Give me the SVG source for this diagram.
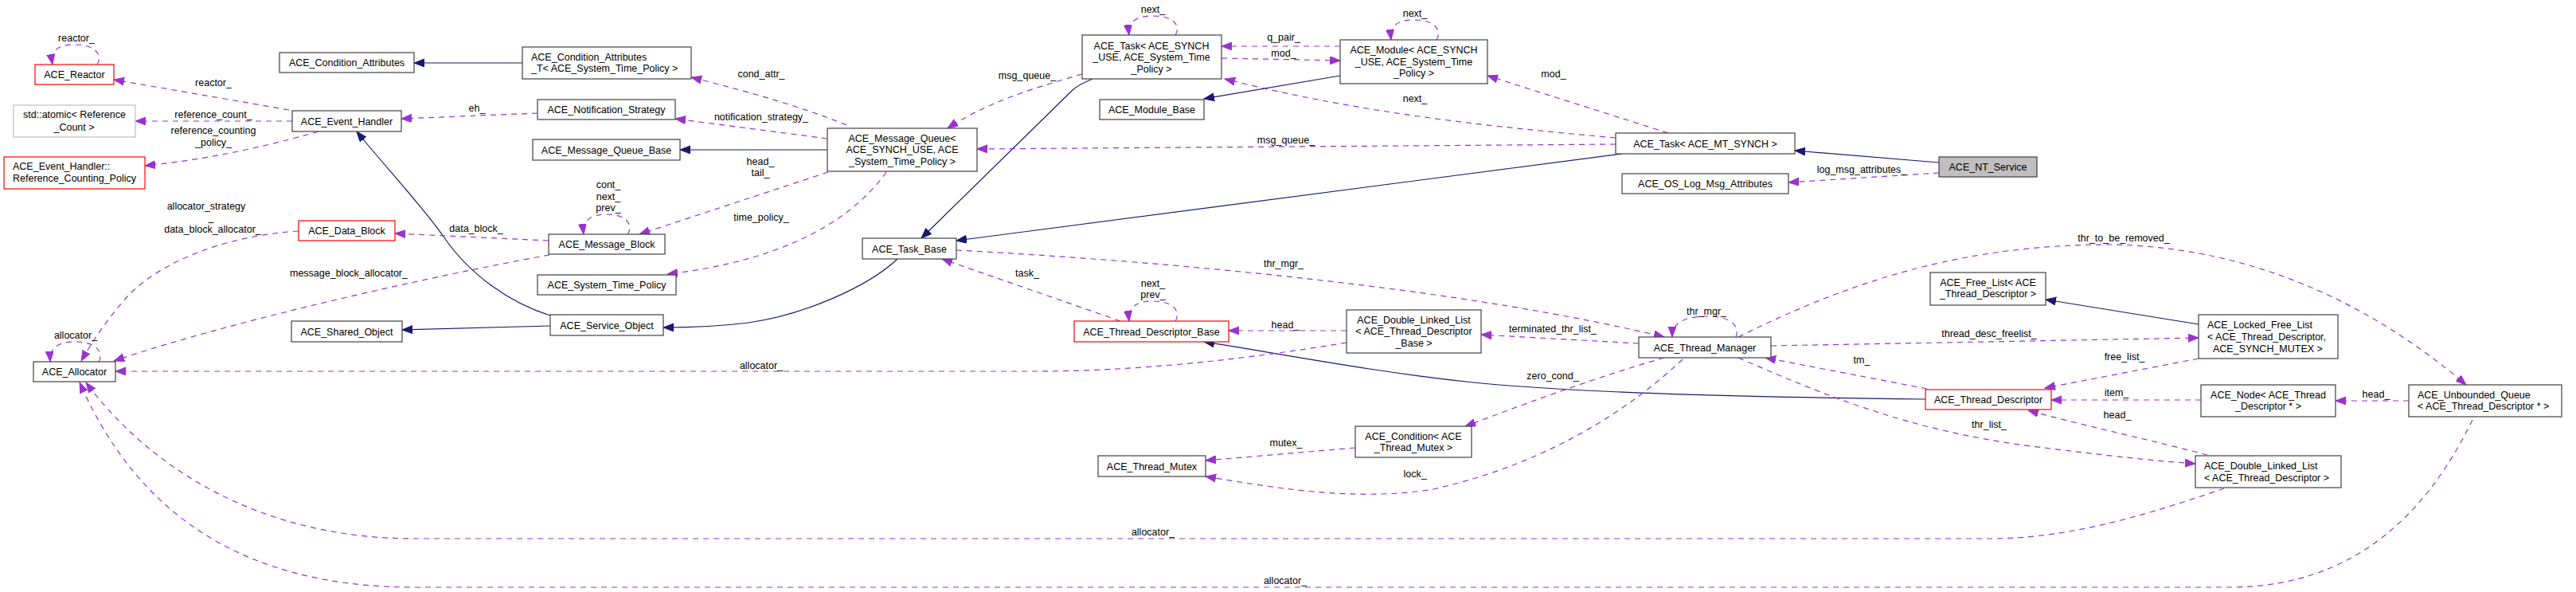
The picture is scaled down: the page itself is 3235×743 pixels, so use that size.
<svg xmlns="http://www.w3.org/2000/svg" width="3235" height="743" viewBox="0 0 3235 743">
<style>
text{font-family:"Liberation Sans",Arial,Helvetica,sans-serif;font-size:12.5px;fill:#000}
.c{text-anchor:middle}
.n rect{fill:#fff;stroke:#404040;stroke-width:1.2}
.r rect{stroke:#ff0000}
.g rect{stroke:#bfbfbf}
.s rect{fill:#bfbfbf}
.inh{fill:none;stroke:#191970;stroke-width:1.2;marker-end:url(#ai)}
.use{fill:none;stroke:#9a32cd;stroke-width:1.2;stroke-dasharray:7,6;marker-end:url(#au)}
</style>
<defs>
<marker id="ai" markerUnits="userSpaceOnUse" markerWidth="14" markerHeight="12" refX="13" refY="5" orient="auto"><path d="M0,0 L13,5 L0,10 z" fill="#191970" stroke="#191970"/></marker>
<marker id="au" markerUnits="userSpaceOnUse" markerWidth="14" markerHeight="12" refX="13" refY="5" orient="auto"><path d="M0,0 L13,5 L0,10 z" fill="#9a32cd" stroke="#9a32cd"/></marker>
</defs>
<rect width="3235" height="743" fill="#fff"/>
<g id="edges">
<path class="inh" d="M656,79 L520,79"/>
<path class="inh" d="M1039,188 L854,188"/>
<path class="inh" d="M691,396 C640,380 590,345 557,297 C530,258 480,205 448,165"/>
<path class="inh" d="M1127,325 C1090,360 1010,395 940,405 C900,410 870,411 833,411"/>
<path class="inh" d="M691,409 L505,414"/>
<path class="inh" d="M1372,99 C1360,104 1352,108 1347,113 L1157,299"/>
<path class="inh" d="M2037,193 L1201,302"/>
<path class="inh" d="M1683,95 L1512,124"/>
<path class="inh" d="M2435,204 L2254,189"/>
<path class="inh" d="M2418,501 C2250,499 2000,495 1850,480 C1720,466 1620,446 1512,429"/>
<path class="inh" d="M2761,407 L2569,376"/>

<path class="use" d="M122,81 C128,72 124,56 94,56 C72,56 63,64 66,81"/>
<path class="use" d="M363,138 L143,100"/>
<path class="use" d="M367,152 L170,152"/>
<path class="use" d="M400,165 C330,185 260,200 182,208"/>
<path class="use" d="M675,142 L504,149"/>
<path class="use" d="M1063,157 C1010,135 940,115 868,97"/>
<path class="use" d="M1039,174 L848,149"/>
<path class="use" d="M1040,216 L803,294"/>
<path class="use" d="M1113,216 C1060,290 960,330 838,344"/>
<path class="use" d="M788,294 C795,285 790,269 762,269 C740,269 731,278 733,294"/>
<path class="use" d="M689,302 L496,293"/>
<path class="use" d="M690,320 C550,345 300,400 143,453"/>
<path class="use" d="M375,290 C280,296 200,330 160,372 C135,400 115,430 102,453"/>
<path class="use" d="M124,454 C130,445 124,429 95,429 C72,429 62,437 63,454"/>
<path class="use" d="M1691,430 C1600,445 1450,466 1300,466 L145,466"/>
<path class="use" d="M2793,613 C2700,645 2600,676 2500,676 L520,676 C330,676 190,590 108,480"/>
<path class="use" d="M3105,527 C3050,640 2960,737 2800,737 L520,737 C300,737 170,640 100,480"/>
<path class="use" d="M1359,93 C1300,110 1240,128 1190,161"/>
<path class="use" d="M2029,181 L1227,187"/>
<path class="use" d="M2029,173 C1850,157 1700,140 1538,99"/>
<path class="use" d="M2095,167 L1868,95"/>
<path class="use" d="M1476,44 C1482,35 1478,20 1448,20 C1426,20 1416,28 1418,44"/>
<path class="use" d="M1804,50 C1810,41 1806,25 1776,25 C1754,25 1745,33 1747,50"/>
<path class="use" d="M1683,58 L1534,58"/>
<path class="use" d="M1534,73 L1683,76"/>
<path class="use" d="M2435,217 L2246,229"/>
<path class="use" d="M1407,403 L1183,325"/>
<path class="use" d="M1476,403 C1482,394 1478,378 1448,378 C1426,378 1416,386 1418,403"/>
<path class="use" d="M1691,415 L1543,415"/>
<path class="use" d="M2058,431 L1860,420"/>
<path class="use" d="M1201,314 C1500,330 1850,365 2090,423"/>
<path class="use" d="M2180,423 C2185,410 2175,397 2145,397 C2115,397 2100,405 2100,423"/>
<path class="use" d="M2183,423 C2330,350 2470,307 2650,307 C2850,310 3000,400 3097,483"/>
<path class="use" d="M2090,449 C2000,475 1920,505 1840,535"/>
<path class="use" d="M2113,451 C2050,510 1950,580 1800,614 C1700,630 1600,612 1514,598"/>
<path class="use" d="M1702,562 L1514,578"/>
<path class="use" d="M2224,434 L2761,424"/>
<path class="use" d="M2420,488 L2217,449"/>
<path class="use" d="M2183,449 C2300,500 2400,540 2550,560 C2650,572 2700,578 2757,582"/>
<path class="use" d="M2761,450 L2568,487"/>
<path class="use" d="M2764,502 L2576,502"/>
<path class="use" d="M2772,571 C2700,552 2620,535 2547,515"/>
<path class="use" d="M3025,503 L2933,503"/>
</g>
<g id="edge-labels" class="c">
<text x="96" y="52">reactor_</text>
<text x="268" y="108">reactor_</text>
<text x="268" y="148">reference_count_</text>
<text x="268" y="168">reference_counting</text>
<text x="268" y="183">_policy_</text>
<text x="259" y="263">allocator_strategy</text>
<text x="265" y="277">_</text>
<text x="267" y="292">data_block_allocator_</text>
<text x="438" y="347">message_block_allocator_</text>
<text x="95" y="425">allocator_</text>
<text x="599" y="140">eh_</text>
<text x="956" y="97">cond_attr_</text>
<text x="956" y="151">notification_strategy_</text>
<text x="955" y="207">head_</text>
<text x="955" y="221">tail_</text>
<text x="764" y="236">cont_</text>
<text x="764" y="251">next_</text>
<text x="764" y="265">prev_</text>
<text x="598" y="291">data_block_</text>
<text x="956" y="277">time_policy_</text>
<text x="1290" y="99">msg_queue_</text>
<text x="1615" y="180">msg_queue_</text>
<text x="1448" y="16">next_</text>
<text x="1612" y="51">q_pair_</text>
<text x="1612" y="71">mod_</text>
<text x="1777" y="21">next_</text>
<text x="1951" y="97">mod_</text>
<text x="1777" y="128">next_</text>
<text x="2338" y="217">log_msg_attributes_</text>
<text x="1290" y="347">task_</text>
<text x="1448" y="360">next_</text>
<text x="1448" y="374">prev_</text>
<text x="1612" y="335">thr_mgr_</text>
<text x="1614" y="412">head_</text>
<text x="1950" y="417">terminated_thr_list_</text>
<text x="2143" y="395">thr_mgr_</text>
<text x="2667" y="303">thr_to_be_removed_</text>
<text x="2498" y="423">thread_desc_freelist_</text>
<text x="2668" y="452">free_list_</text>
<text x="2338" y="456">tm_</text>
<text x="1950" y="476">zero_cond_</text>
<text x="2658" y="497">item_</text>
<text x="2659" y="525">head_</text>
<text x="2984" y="499">head_</text>
<text x="2498" y="537">thr_list_</text>
<text x="1615" y="560">mutex_</text>
<text x="1777" y="599">lock_</text>
<text x="956" y="463">allocator_</text>
<text x="1448" y="672">allocator_</text>
<text x="1614" y="733">allocator_</text>
</g>
<g id="ACE_Reactor" class="n r"><rect x="44" y="81" width="99" height="25"/><text class="c" x="93.5" y="98">ACE_Reactor</text></g>
<g id="std_atomic" class="n g"><rect x="17" y="132" width="153" height="40"/><text class="c" x="93.5" y="147.5">std::atomic&lt; Reference</text><text class="c" x="93" y="163.5">_Count &gt;</text></g>
<g id="Reference_Counting_Policy" class="n r"><rect x="5" y="197" width="177" height="40"/><text x="16" y="212.5">ACE_Event_Handler::</text><text x="16" y="227.5">Reference_Counting_Policy</text></g>
<g id="ACE_Condition_Attributes" class="n"><rect x="351" y="66" width="169" height="25"/><text class="c" x="435.5" y="83">ACE_Condition_Attributes</text></g>
<g id="ACE_Event_Handler" class="n"><rect x="367" y="139" width="137" height="26"/><text class="c" x="435.5" y="156.5">ACE_Event_Handler</text></g>
<g id="ACE_Data_Block" class="n r"><rect x="375" y="277" width="121" height="25"/><text class="c" x="435.5" y="294">ACE_Data_Block</text></g>
<g id="ACE_Allocator" class="n"><rect x="42" y="454" width="103" height="25"/><text class="c" x="93.5" y="471">ACE_Allocator</text></g>
<g id="ACE_Shared_Object" class="n"><rect x="366" y="403" width="139" height="26"/><text class="c" x="435.5" y="420.5">ACE_Shared_Object</text></g>
<g id="ACE_Condition_Attributes_T" class="n"><rect x="656" y="59" width="212" height="40"/><text x="667" y="75.5">ACE_Condition_Attributes</text><text x="667" y="89.5">_T&lt; ACE_System_Time_Policy &gt;</text></g>
<g id="ACE_Notification_Strategy" class="n"><rect x="675" y="125" width="173" height="25"/><text class="c" x="761.5" y="142">ACE_Notification_Strategy</text></g>
<g id="ACE_Message_Queue_Base" class="n"><rect x="669" y="175" width="185" height="26"/><text class="c" x="761.5" y="192.5">ACE_Message_Queue_Base</text></g>
<g id="ACE_Message_Block" class="n"><rect x="689" y="294" width="146" height="25"/><text class="c" x="762" y="311">ACE_Message_Block</text></g>
<g id="ACE_System_Time_Policy" class="n"><rect x="675" y="345" width="174" height="25"/><text class="c" x="762" y="362">ACE_System_Time_Policy</text></g>
<g id="ACE_Service_Object" class="n"><rect x="691" y="395" width="142" height="26"/><text class="c" x="762" y="412.5">ACE_Service_Object</text></g>
<g id="ACE_Message_Queue" class="n"><rect x="1039" y="161" width="188" height="54"/><text class="c" x="1133" y="177.5">ACE_Message_Queue&lt;</text><text class="c" x="1133" y="191.5">ACE_SYNCH_USE, ACE</text><text class="c" x="1133" y="206.5">_System_Time_Policy &gt;</text></g>
<g id="ACE_Task_SYNCH_USE" class="n"><rect x="1359" y="44" width="175" height="55"/><text class="c" x="1446" y="61.5">ACE_Task&lt; ACE_SYNCH</text><text class="c" x="1446" y="75.5">_USE, ACE_System_Time</text><text class="c" x="1446" y="90.5">_Policy &gt;</text></g>
<g id="ACE_Module_Base" class="n"><rect x="1381" y="125" width="131" height="25"/><text class="c" x="1446.5" y="142">ACE_Module_Base</text></g>
<g id="ACE_Task_Base" class="n"><rect x="1083" y="299" width="118" height="26"/><text class="c" x="1142" y="316.5">ACE_Task_Base</text></g>
<g id="ACE_Thread_Descriptor_Base" class="n r"><rect x="1349" y="403" width="194" height="26"/><text class="c" x="1446" y="420.5">ACE_Thread_Descriptor_Base</text></g>
<g id="ACE_Thread_Mutex" class="n"><rect x="1379" y="572" width="135" height="26"/><text class="c" x="1446.5" y="589.5">ACE_Thread_Mutex</text></g>
<g id="ACE_Module" class="n"><rect x="1683" y="50" width="185" height="55"/><text class="c" x="1775.5" y="66.5">ACE_Module&lt; ACE_SYNCH</text><text class="c" x="1775.5" y="81.5">_USE, ACE_System_Time</text><text class="c" x="1775.5" y="95.5">_Policy &gt;</text></g>
<g id="ACE_Double_Linked_List_TDB" class="n"><rect x="1691" y="389" width="169" height="54"/><text class="c" x="1775.5" y="405.5">ACE_Double_Linked_List</text><text class="c" x="1775.5" y="419.5">&lt; ACE_Thread_Descriptor</text><text class="c" x="1775.5" y="434.5">_Base &gt;</text></g>
<g id="ACE_Condition" class="n"><rect x="1702" y="535" width="146" height="39"/><text class="c" x="1775" y="551.5">ACE_Condition&lt; ACE</text><text class="c" x="1775" y="565.5">_Thread_Mutex &gt;</text></g>
<g id="ACE_Task_MT_SYNCH" class="n"><rect x="2029" y="167" width="225" height="26"/><text class="c" x="2141.5" y="184.5">ACE_Task&lt; ACE_MT_SYNCH &gt;</text></g>
<g id="ACE_OS_Log_Msg_Attributes" class="n"><rect x="2037" y="218" width="209" height="25"/><text class="c" x="2141.5" y="235">ACE_OS_Log_Msg_Attributes</text></g>
<g id="ACE_Thread_Manager" class="n"><rect x="2058" y="423" width="166" height="26"/><text class="c" x="2141" y="440.5">ACE_Thread_Manager</text></g>
<g id="ACE_NT_Service" class="n s"><rect x="2435" y="197" width="123" height="25"/><text class="c" x="2496.5" y="214">ACE_NT_Service</text></g>
<g id="ACE_Free_List" class="n"><rect x="2424" y="342" width="145" height="41"/><text class="c" x="2496.5" y="358.5">ACE_Free_List&lt; ACE</text><text class="c" x="2496.5" y="373">_Thread_Descriptor &gt;</text></g>
<g id="ACE_Thread_Descriptor" class="n r"><rect x="2418" y="489" width="158" height="25"/><text class="c" x="2497" y="506">ACE_Thread_Descriptor</text></g>
<g id="ACE_Locked_Free_List" class="n"><rect x="2761" y="395" width="175" height="55"/><text x="2772" y="411.5">ACE_Locked_Free_List</text><text x="2772" y="426.5">&lt; ACE_Thread_Descriptor,</text><text x="2779" y="441.5">ACE_SYNCH_MUTEX &gt;</text></g>
<g id="ACE_Node" class="n"><rect x="2764" y="483" width="169" height="40"/><text class="c" x="2848.5" y="499.5">ACE_Node&lt; ACE_Thread</text><text class="c" x="2848.5" y="513.5">_Descriptor * &gt;</text></g>
<g id="ACE_Double_Linked_List_TD" class="n"><rect x="2757" y="572" width="183" height="40"/><text x="2768" y="588.5">ACE_Double_Linked_List</text><text x="2768" y="603.5">&lt; ACE_Thread_Descriptor &gt;</text></g>
<g id="ACE_Unbounded_Queue" class="n"><rect x="3025" y="483" width="192" height="40"/><text x="3036" y="499.5">ACE_Unbounded_Queue</text><text x="3036" y="513.5">&lt; ACE_Thread_Descriptor * &gt;</text></g>
</svg>
